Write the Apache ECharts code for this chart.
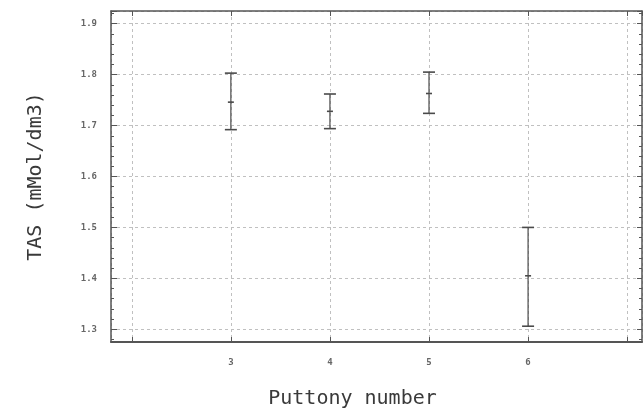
<!DOCTYPE html>
<html>
<head>
<meta charset="utf-8">
<script src="https://cdn.jsdelivr.net/npm/echarts@6/dist/echarts.min.js"></script>
<style>html,body{margin:0;padding:0;background:#fff}#c{width:644px;height:414px}</style>
</head>
<body>
<div id="c"></div>
<script>
// Puttony number (x position)
const puttony = [3, 4, 5, 6];
// error bar lower end, mean, upper end (TAS, mMol/dm3)
const lowVals  = [1.692, 1.694, 1.724, 1.306];
const meanVals = [1.746, 1.728, 1.763, 1.405];
const highVals = [1.803, 1.762, 1.805, 1.500];
const xTickLabels = ['3', '4', '5', '6'];
const yTickLabels = ['1.3', '1.4', '1.5', '1.6', '1.7', '1.8', '1.9'];

const data = puttony.map((x, i) => [x, lowVals[i], meanVals[i], highVals[i]]);
const fontFam = '"DejaVu Sans Mono", "Liberation Mono", monospace';
const axisColor = '#555';
const gridLine = { show: true, lineStyle: { color: '#c0c0c0', type: [3, 3], width: 1 } };

const chart = echarts.init(document.getElementById('c'));
chart.setOption({
  backgroundColor: '#ffffff',
  animation: false,
  grid: { left: 111, right: 2, top: 11, bottom: 70 },
  xAxis: [{
    type: 'value', min: 1.79, max: 7.15, splitNumber: 5,
    position: 'bottom',
    axisLine: { show: true, onZero: false, lineStyle: { color: axisColor, width: 2 } },
    axisTick: { show: true, inside: true, length: 5, lineStyle: { color: axisColor } },
    splitLine: gridLine,
    axisLabel: {
      showMinLabel: false, showMaxLabel: false, margin: 16,
      color: '#666', fontSize: 9, fontWeight: 'bold', fontFamily: fontFam,
      formatter: v => { const s = String(Math.round(v)); return (Math.abs(v - Math.round(v)) < 1e-6 && xTickLabels.includes(s)) ? s : ''; }
    },
    name: 'Puttony number', nameLocation: 'middle', nameGap: 47,
    nameTextStyle: { color: '#3a3a3a', fontSize: 20, fontFamily: fontFam, padding: [0, 48, 0, 0] }
  }, {
    type: 'value', min: 1.79, max: 7.15, splitNumber: 5, position: 'top',
    axisLine: { show: true, onZero: false, lineStyle: { color: axisColor, width: 1.5 } },
    axisTick: { show: true, inside: true, length: 5, lineStyle: { color: axisColor } },
    axisLabel: { show: false }, splitLine: { show: false }
  }],
  yAxis: [{
    type: 'value', min: 1.275, max: 1.925, splitNumber: 6,
    position: 'left',
    axisLine: { show: true, onZero: false, lineStyle: { color: axisColor, width: 1.5 } },
    axisTick: { show: true, inside: true, length: 6, lineStyle: { color: axisColor } },
    minorTick: { show: true, splitNumber: 5, length: 3, lineStyle: { color: axisColor } },
    splitLine: gridLine,
    axisLabel: {
      showMinLabel: false, showMaxLabel: false, margin: 14,
      color: '#666', fontSize: 9, fontWeight: 'bold', fontFamily: fontFam,
      formatter: v => { const s = v.toFixed(1); return yTickLabels.includes(s) ? s : ''; }
    },
    name: 'TAS (mMol/dm3)', nameLocation: 'middle', nameGap: 65, nameRotate: 90,
    nameTextStyle: { color: '#3a3a3a', fontSize: 20, fontFamily: fontFam }
  }, {
    type: 'value', min: 1.275, max: 1.925, splitNumber: 6, position: 'right',
    axisLine: { show: true, onZero: false, lineStyle: { color: axisColor, width: 1.5 } },
    axisTick: { show: true, inside: true, length: 5, lineStyle: { color: axisColor } },
    minorTick: { show: true, splitNumber: 5, length: 3, lineStyle: { color: axisColor } },
    axisLabel: { show: false }, splitLine: { show: false }
  }],
  series: [{
    type: 'custom',
    xAxisIndex: 0, yAxisIndex: 0,
    data: data,
    encode: { x: 0, y: [1, 2, 3] },
    renderItem: function (params, api) {
      const x = api.value(0);
      const lo = api.coord([x, api.value(1)]);
      const mi = api.coord([x, api.value(2)]);
      const hi = api.coord([x, api.value(3)]);
      const st = { stroke: '#4a4a4a', lineWidth: 1.2 };
      const capW = 6, meanW = 3;
      return {
        type: 'group',
        children: [
          { type: 'line', shape: { x1: hi[0], y1: hi[1], x2: lo[0], y2: lo[1] }, style: st },
          { type: 'line', shape: { x1: hi[0] - capW, y1: hi[1], x2: hi[0] + capW, y2: hi[1] }, style: { stroke: '#4a4a4a', lineWidth: 1.6 } },
          { type: 'line', shape: { x1: lo[0] - capW, y1: lo[1], x2: lo[0] + capW, y2: lo[1] }, style: { stroke: '#4a4a4a', lineWidth: 1.6 } },
          { type: 'line', shape: { x1: mi[0] - meanW, y1: mi[1], x2: mi[0] + meanW, y2: mi[1] }, style: { stroke: '#4a4a4a', lineWidth: 1.6 } }
        ]
      };
    }
  }]
});
</script>
</body>
</html>
